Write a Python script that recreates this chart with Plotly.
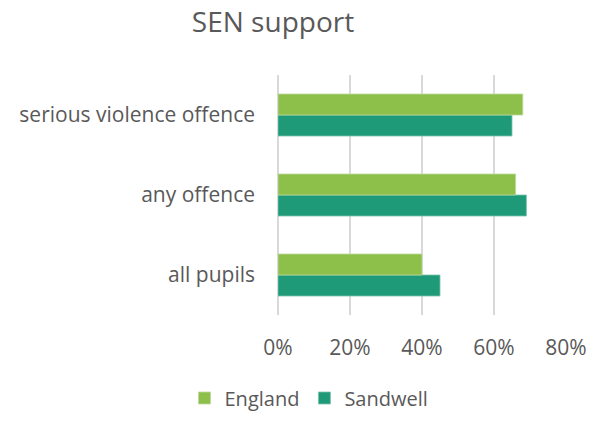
import plotly.graph_objects as go

categories = ["all pupils", "any offence", "serious violence offence"]
england = [0.40, 0.66, 0.68]
sandwell = [0.45, 0.69, 0.65]
tick_vals = [0, 0.2, 0.4, 0.6, 0.8]
tick_text = ["0%", "20%", "40%", "60%", "80%"]

text_color = "#595959"
font_family = "Open Sans"
label_size = 21

fig = go.Figure()
fig.add_trace(go.Bar(
    y=categories, x=sandwell, name="Sandwell", orientation="h",
    marker=dict(color="#1E9A78", line=dict(color="#7cc2ac", width=0.8)),
    legendrank=2,
))
fig.add_trace(go.Bar(
    y=categories, x=england, name="England", orientation="h",
    marker=dict(color="#8DC04A", line=dict(color="#bcd99a", width=0.8)),
    legendrank=1,
))

fig.update_layout(
    width=590, height=424,
    margin=dict(l=278, r=24, t=75, b=109, autoexpand=False),
    paper_bgcolor="white", plot_bgcolor="white",
    barmode="group", bargap=0.475, bargroupgap=0,
    font=dict(family=font_family, color=text_color, size=label_size),
    title=dict(text="SEN support", x=273 / 590, xanchor="center",
               y=1 - 22 / 424, yanchor="middle",
               font=dict(size=28, color=text_color, family=font_family)),
    xaxis=dict(range=[0, 0.8], tickvals=tick_vals, ticktext=tick_text,
               automargin=False,
               showgrid=True, gridcolor="#d9d9d9", gridwidth=1.5,
               zeroline=True, zerolinecolor="#d9d9d9", zerolinewidth=1.5,
               showline=False, ticks="", ticklabelstandoff=18,
               tickfont=dict(size=label_size, color=text_color)),
    yaxis=dict(showgrid=False, showline=False, ticks="", automargin=False,
               ticklabelstandoff=22,
               tickfont=dict(size=label_size, color=text_color)),
    legend=dict(orientation="h", x=309 / 590, xref="container",
                xanchor="center", y=1 - 398 / 424, yref="container",
                yanchor="middle", itemwidth=30,
                font=dict(size=20, color=text_color)),
)

fig.write_html("out.html")
